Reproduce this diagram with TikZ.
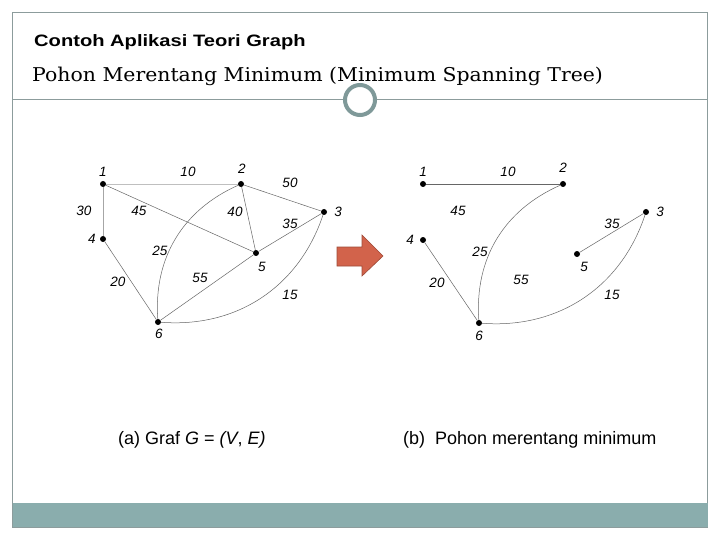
\documentclass[tikz,border=0pt]{standalone}
\usepackage{fontspec}
\usepackage{graphicx}
\setmainfont{Liberation Sans}
\newfontfamily\subtitlefont{DejaVu Serif}
\definecolor{framegray}{HTML}{8C9C9C}
\definecolor{bargray}{HTML}{8AADAD}
\definecolor{ringgray}{HTML}{7F9999}
\definecolor{arrowred}{HTML}{D2634B}
\begin{document}
\begin{tikzpicture}[x=1pt,y=-1pt,
    vtx/.style={circle,fill=black,inner sep=0pt,minimum size=6pt},
    num/.style={font=\fontsize{13.5}{13.5}\selectfont\itshape,inner sep=1pt},
    edge/.style={draw=black!60,line width=0.5pt}]
    \useasboundingbox (0,0) rectangle (720,540);

    % frame of the slide
    \fill[white] (0,0) rectangle (720,540);
    \draw[framegray,line width=1pt] (12.5,12.5) rectangle (707.5,527);
    \fill[bargray] (12.5,503) rectangle (707.5,527);
    \draw[framegray,line width=1pt] (12.5,100) -- (707.5,100);
    \draw[ringgray,fill=white,line width=4pt] (360,100) circle (15);

    \node[anchor=base west,inner sep=0pt,font=\bfseries\fontsize{16.5}{16.5}\selectfont] (title) at (34,47) {\scalebox{1.22}[1]{Contoh Aplikasi Teori Graph}};
    \node[anchor=base west,inner sep=0pt,font=\subtitlefont\fontsize{19}{19}\selectfont] (subtitle) at (32,82) {\scalebox{1.075}[1]{Pohon Merentang Minimum (Minimum Spanning Tree)}};

    % (a) graf G
    \foreach \n/\x/\y in {1/103/184,2/241/184,3/324/212,4/103/239,5/256/253,6/158/322}
        {\node[vtx] (a\n) at (\x,\y) {};}
    \foreach \n/\x/\y in {1/103/172,2/242/169,3/338/212,4/92/239,5/262/267,6/159/334}
        {\node[num] (la\n) at (\x,\y) {\n};}
    \draw[edge,draw=black!25] (a1) -- (a2);
    \draw[edge,draw=black!35] (a1) -- (a4);
    \draw[edge] (a1) -- (a5);
    \draw[edge] (a2) -- (a5);
    \draw[edge] (a2) -- (a3);
    \draw[edge] (a3) -- (a5);
    \draw[edge] (a4) -- (a6);
    \draw[edge] (a5) -- (a6);
    \draw[edge] (a6) to[bend left=35] (a2);
    \draw[edge] (a6) to[bend right=38] (a3);
    \foreach \w/\x/\y in {10/188/172,50/290/183,30/84/211,45/139/211,40/235/212,35/290/224,25/160/251,20/118/282,55/200/278,15/290/295}
        {\node[num] (wa\w) at (\x,\y) {\w};}

    % panah
    \draw[arrowred!75!black,fill=arrowred,line width=0.6pt] (337,247) -- (362,247) -- (362,235) -- (383,256) -- (362,276) -- (362,266) -- (337,266) -- cycle;

    % (b) pohon merentang minimum
    \foreach \n/\x/\y in {1/423/184,2/563/184,3/646/212,4/423/240,5/577/254,6/479/323}
        {\node[vtx] (b\n) at (\x,\y) {};}
    \foreach \n/\x/\y in {1/423/172,2/563/168,3/660/212,4/410/240,5/584/267,6/479/336}
        {\node[num] (lb\n) at (\x,\y) {\n};}
    \draw[edge] (b1) -- (b2);
    \draw[edge] (b3) -- (b5);
    \draw[edge] (b4) -- (b6);
    \draw[edge] (b6) to[bend left=35] (b2);
    \draw[edge] (b6) to[bend right=38] (b3);
    \foreach \w/\x/\y in {10/508/172,45/458/211,35/612/224,25/480/252,20/437/283,55/521/280,15/612/295}
        {\node[num] (wb\w) at (\x,\y) {\w};}

    \node[anchor=base west,inner sep=0pt,font=\fontsize{18}{18}\selectfont] (capa) at (118,444) {(a) Graf \textit{G} = \textit{(V}, \textit{E)}};
    \node[anchor=base west,inner sep=0pt,font=\fontsize{18}{18}\selectfont] (capb) at (403,444) {(b)\ \ Pohon merentang minimum};
\end{tikzpicture}
\end{document}
